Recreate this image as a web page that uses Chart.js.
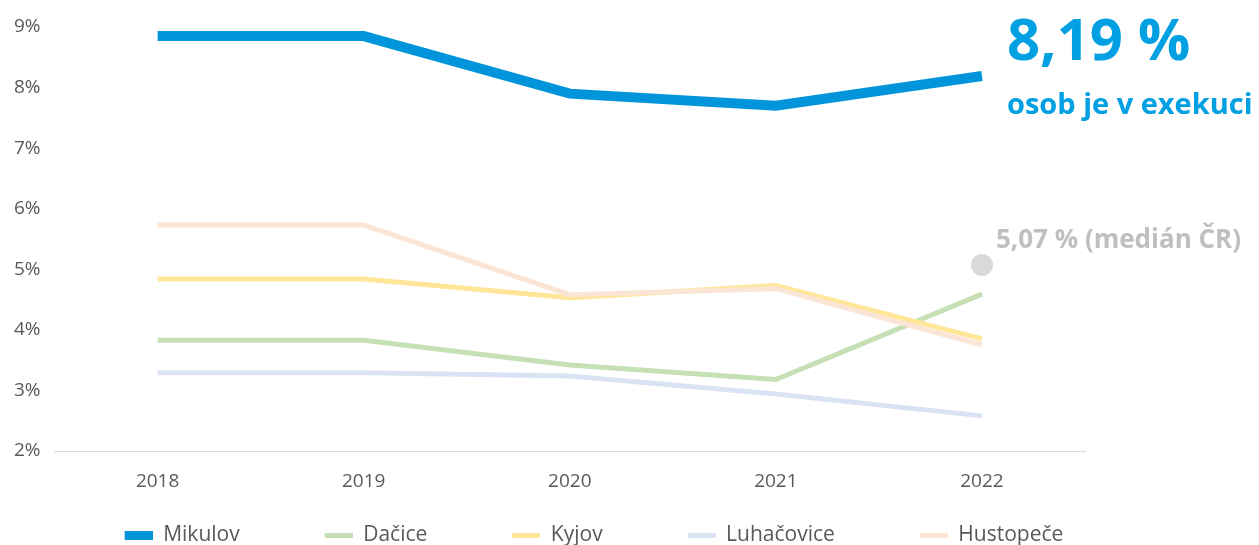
<!DOCTYPE html>
<html>
<head>
<meta charset="utf-8">
<script src="https://cdn.jsdelivr.net/npm/chart.js@4"></script>
<style>
  html, body { margin: 0; padding: 0; background: #fff; overflow: hidden; }
  #wrap { width: 1259px; height: 560px; position: relative; }
</style>
</head>
<body>
<div id="wrap"><canvas id="chart"></canvas></div>
<script>
const years = ['2018', '2019', '2020', '2021', '2022'];
const mikulov = [8.85, 8.85, 7.9, 7.7, 8.19];
const dacice = [3.83, 3.83, 3.42, 3.18, 4.59];
const kyjov = [4.84, 4.84, 4.53, 4.73, 3.85];
const luhacovice = [3.29, 3.29, 3.24, 2.94, 2.58];
const hustopece = [5.73, 5.73, 4.58, 4.68, 3.75];
const medianCR = [null, null, null, null, 5.07];
const yMin = 2;
const yMax = 9;

const bigLabel = '8,19 %';
const subLabel = 'osob je v exekuci';
const medianLabel = '5,07 % (medián ČR)';

// legend marker: empty gap on the left, then a short bar
const GAP = 75;
function legendMarker(color, h) {
    const c = document.createElement('canvas');
    c.width = GAP + 28;
    c.height = h;
    const g = c.getContext('2d');
    g.fillStyle = color;
    g.fillRect(GAP, 0, 28, h);
    return c;
}

// texts next to the last points
const annotations = {
    id: 'annotations',
    afterDatasetsDraw(chart) {
        const ctx = chart.ctx;
        const x = chart.scales.x.getPixelForValue(4);
        const yMik = chart.scales.y.getPixelForValue(mikulov[4]);
        const yMed = chart.scales.y.getPixelForValue(medianCR[4]);
        ctx.save();
        ctx.textAlign = 'left';
        ctx.textBaseline = 'alphabetic';
        ctx.fillStyle = '#00A0E2';
        ctx.font = 'bold 58px "Open Sans"';
        ctx.fillText(bigLabel, x + 25, yMik - 16);
        ctx.font = 'bold 29px "Open Sans"';
        ctx.fillText(subLabel, x + 25, yMik + 38);
        ctx.fillStyle = '#BFBFBF';
        ctx.font = 'bold 26px "Open Sans"';
        ctx.fillText(medianLabel, x + 14, yMed - 17);
        ctx.restore();
    }
};

const ctx = document.getElementById('chart').getContext('2d');

new Chart(ctx, {
    type: 'line',
    data: {
        labels: years,
        datasets: [
            { label: 'median', data: medianCR, showLine: false, pointRadius: 11, pointHoverRadius: 11,
              pointBackgroundColor: '#D9D9D9', pointBorderWidth: 0, backgroundColor: '#D9D9D9', order: 0 },
            { label: 'Mikulov', data: mikulov, borderColor: '#0095DA', backgroundColor: '#0095DA', borderWidth: 10, order: 1 },
            { label: 'Dačice', data: dacice, borderColor: '#C5E0B4', backgroundColor: '#C5E0B4', borderWidth: 5, order: 5 },
            { label: 'Kyjov', data: kyjov, borderColor: '#FFE699', backgroundColor: '#FFE699', borderWidth: 5, order: 3 },
            { label: 'Luhačovice', data: luhacovice, borderColor: '#DAE3F3', backgroundColor: '#DAE3F3', borderWidth: 5, order: 4 },
            { label: 'Hustopeče', data: hustopece, borderColor: '#FBE5D6', backgroundColor: '#FBE5D6', borderWidth: 5, order: 2 }
        ]
    },
    options: {
        responsive: true,
        maintainAspectRatio: false,
        animation: false,
        elements: {
            point: { radius: 0 },
            line: { tension: 0, borderJoinStyle: 'miter' }
        },
        layout: { padding: { left: 0, right: 146, top: 27, bottom: 4 } },
        scales: {
            x: {
                offset: true,
                grid: { display: false, drawTicks: false },
                border: { display: true, color: '#D9D9D9', width: 1 },
                ticks: { color: '#595959', font: { family: 'Open Sans', size: 19 }, padding: 19 },
                afterFit: (s) => { s.height = 64; }
            },
            y: {
                min: yMin,
                max: yMax,
                grid: { display: false, drawTicks: false },
                border: { display: false },
                ticks: {
                    stepSize: 1,
                    color: '#595959',
                    font: { family: 'Open Sans', size: 19 },
                    padding: 14,
                    callback: (v) => v + '%'
                }
            },
            pad: {
                position: 'right',
                grid: { display: false, drawTicks: false },
                border: { display: false },
                ticks: { display: false },
                afterFit: (s) => { s.width = 28; }
            }
        },
        plugins: {
            legend: {
                position: 'bottom',
                labels: {
                    color: '#595959',
                    font: { family: 'Open Sans', size: 21 },
                    usePointStyle: true,
                    pointStyleWidth: GAP + 28,
                    padding: 10,
                    filter: (item) => item.text !== 'median',
                    sort: (a, b) => a.datasetIndex - b.datasetIndex,
                    generateLabels: (chart) => Chart.defaults.plugins.legend.labels.generateLabels(chart)
                        .map(l => Object.assign(l, {
                            pointStyle: legendMarker(l.strokeStyle, l.lineWidth > 6 ? 9 : 5)
                        }))
                }
            },
            tooltip: { enabled: false }
        }
    },
    plugins: [annotations]
});
</script>
</body>
</html>
